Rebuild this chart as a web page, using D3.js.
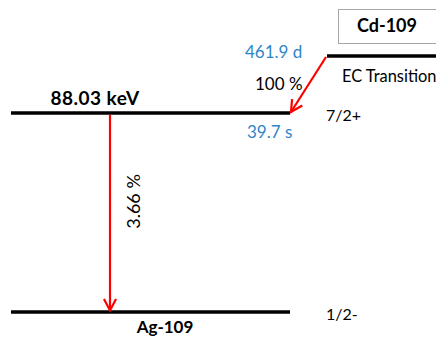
<!DOCTYPE html>
<html>
<head>
<meta charset="utf-8">
<script src="https://cdn.jsdelivr.net/npm/d3@7"></script>
<style>
  html, body { margin: 0; padding: 0; background: #fff; }
  svg { display: block; }
  text { font-family: Lato, "Open Sans", sans-serif; }
</style>
</head>
<body>
<svg id="chart" width="436" height="337"></svg>
<script>
// Cd-109 -> Ag-109 electron-capture decay scheme
const parentNuclide = "Cd-109";
const parentHalfLife = "461.9 d";
const parentQ = 214;               // keV, Q(EC)
const daughterNuclide = "Ag-109";
const levelEnergies = [0, 88.03];  // keV
const levelSpins = ["1/2-", "7/2+"];
const levelHalfLives = ["", "39.7 s"];
const ecBranch = 100;              // % feeding of the 88.03 keV level
const gammaIntensity = 3.66;       // % of the 88.03 keV gamma

const svg = d3.select("#chart");
const blue = "#2E86C9", red = "#FF0000";

// energy axis (piecewise so the parent sits just above the excited level)
const y = d3.scaleLinear()
  .domain([0, levelEnergies[1], parentQ])
  .range([312, 113, 56]);

// horizontal layout: daughter levels on the left, parent on the right
const x = d3.scaleLinear().domain([0, 1]).range([11, 290]);
const xParent = d3.scaleLinear().domain([0, 1]).range([327, 440]);

// parent box
svg.append("rect")
  .attr("x", 338.5).attr("y", 9.5).attr("width", 120).attr("height", 34)
  .attr("fill", "#fff").attr("stroke", "#a6a6a6").attr("stroke-width", 1);
svg.append("text")
  .attr("x", 387).attr("y", 32).attr("text-anchor", "middle")
  .attr("font-weight", "bold").attr("font-size", 18)
  .text(parentNuclide);

// parent level
svg.append("line")
  .attr("x1", xParent(0)).attr("x2", xParent(1))
  .attr("y1", y(parentQ)).attr("y2", y(parentQ))
  .attr("stroke", "#000").attr("stroke-width", 3.5);
svg.append("text")
  .attr("x", 342).attr("y", 82).attr("font-size", 16.4)
  .text("EC Transition");
svg.append("text")
  .attr("x", 245).attr("y", 58).attr("font-size", 17).attr("fill", blue)
  .text(parentHalfLife);

// daughter levels
svg.selectAll("line.level")
  .data(levelEnergies)
  .join("line").attr("class", "level")
  .attr("x1", x(0)).attr("x2", x(1))
  .attr("y1", d => y(d)).attr("y2", d => y(d))
  .attr("stroke", "#000").attr("stroke-width", 3.5);

svg.selectAll("text.spin")
  .data(levelEnergies)
  .join("text").attr("class", "spin")
  .attr("x", 326).attr("y", d => y(d) + 8)
  .attr("font-size", 16)
  .text((d, i) => levelSpins[i]);

svg.selectAll("text.hl")
  .data(levelEnergies.filter((d, i) => levelHalfLives[i]))
  .join("text").attr("class", "hl")
  .attr("x", 247).attr("y", d => y(d) + 25)
  .attr("font-size", 17).attr("fill", blue)
  .text(d => levelHalfLives[levelEnergies.indexOf(d)]);

svg.append("text")
  .attr("x", 95).attr("y", y(levelEnergies[1]) - 8).attr("text-anchor", "middle")
  .attr("font-weight", "bold").attr("font-size", 19).attr("letter-spacing", 0.5)
  .text(d3.format(".2f")(levelEnergies[1]) + " keV");

svg.append("text")
  .attr("x", 165).attr("y", y(0) + 21).attr("text-anchor", "middle")
  .attr("font-weight", "bold").attr("font-size", 17)
  .text(daughterNuclide);

// open arrowhead drawn as a chevron at (x2, y2)
function arrow(x1, y1, x2, y2) {
  const g = svg.append("g")
    .attr("stroke", red).attr("stroke-width", 2.2).attr("fill", "none");
  g.append("line").attr("x1", x1).attr("y1", y1).attr("x2", x2).attr("y2", y2);
  const a = Math.atan2(y2 - y1, x2 - x1), len = 13, spread = Math.PI / 6.5;
  g.append("path").attr("d", d3.line()([
    [x2 - len * Math.cos(a - spread), y2 - len * Math.sin(a - spread)],
    [x2, y2],
    [x2 - len * Math.cos(a + spread), y2 - len * Math.sin(a + spread)]
  ]));
}

// EC feeding
arrow(xParent(0) - 1, y(parentQ) + 1, x(1) + 1, y(levelEnergies[1]) - 1);
svg.append("text")
  .attr("x", 255).attr("y", 90).attr("font-size", 17)
  .text(ecBranch + " %");

// gamma transition, label set a little above the arrow's midpoint
const gx = 110;
arrow(gx, y(levelEnergies[1]) + 2, gx, y(0) - 1.5);
svg.append("text")
  .attr("transform", `translate(140, ${(y(0) + y(levelEnergies[1])) / 2 - 11}) rotate(-90)`)
  .attr("text-anchor", "middle").attr("font-size", 18)
  .text(d3.format(".2f")(gammaIntensity) + " %");
</script>
</body>
</html>
